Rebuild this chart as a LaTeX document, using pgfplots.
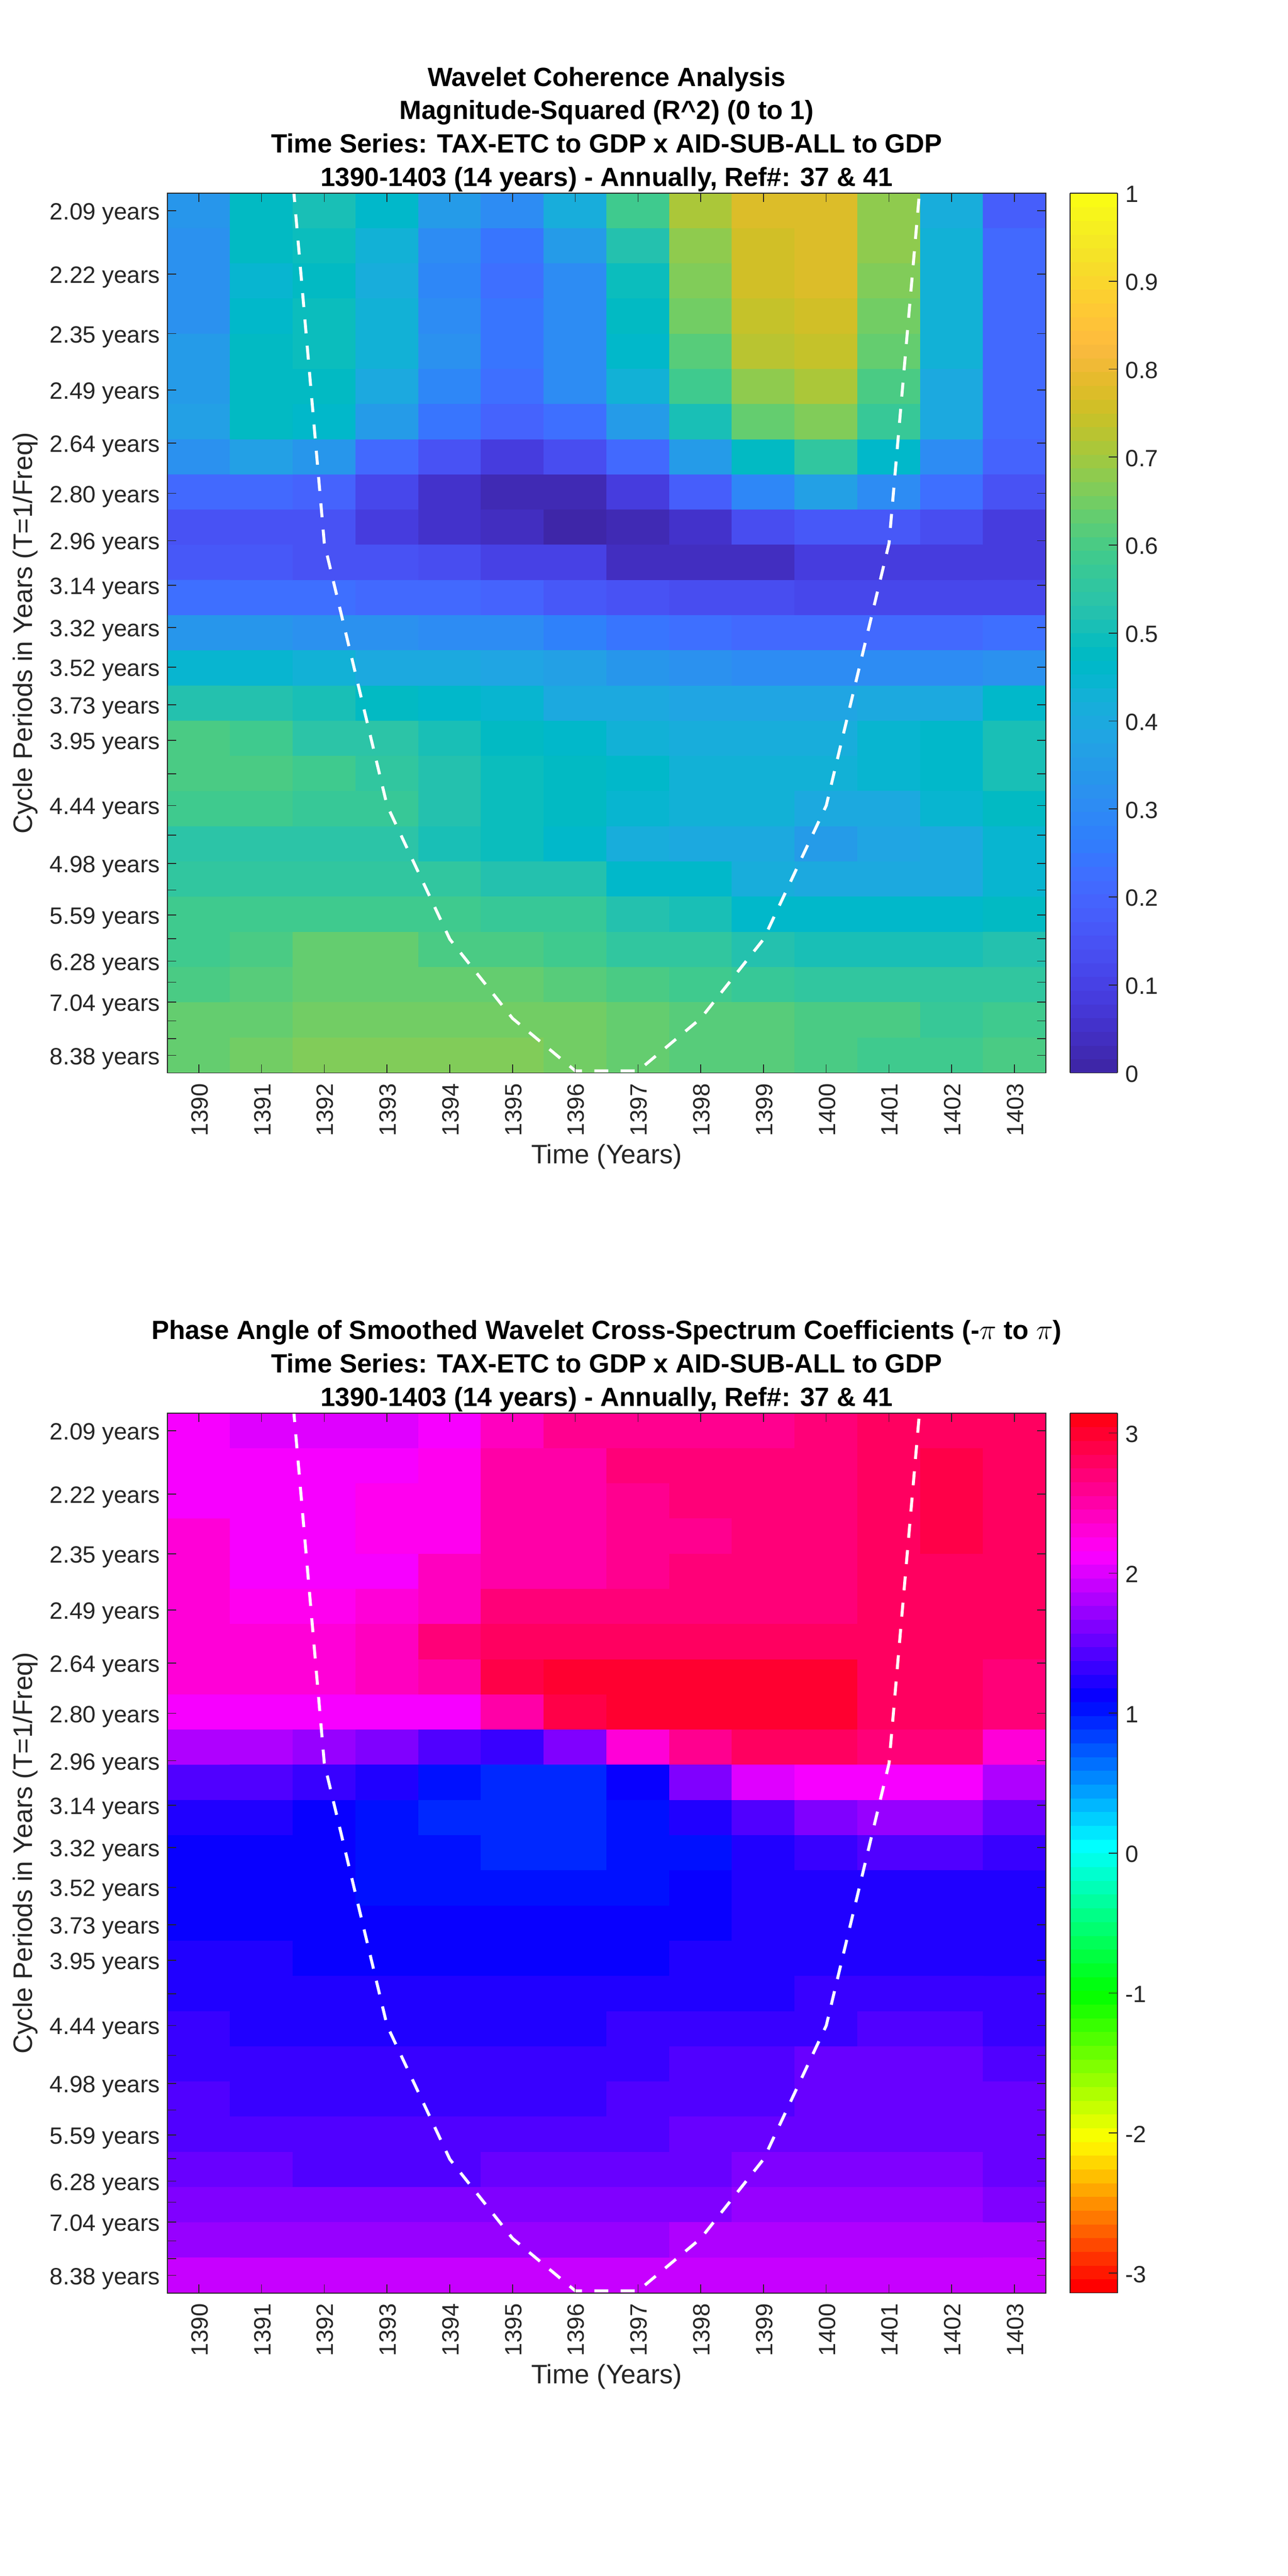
\documentclass[border=0pt]{standalone}
\usepackage{fontspec}
\setmainfont{Liberation Sans}
\usepackage{pgfplots}
\pgfplotsset{compat=1.18}
\definecolor{axgray}{rgb}{0.15,0.15,0.15}
\newcommand{\tickfont}{\fontsize{14.3}{16}\selectfont}
\newcommand{\labfont}{\fontsize{16.2}{19}\selectfont}
\pgfplotsset{
  colormap={parula}{
    rgb=(.2422,.1504,.6603) rgb=(.2504,.1650,.7076) rgb=(.2578,.1818,.7511) rgb=(.2647,.1978,.7952)
    rgb=(.2706,.2147,.8364) rgb=(.2751,.2342,.8710) rgb=(.2783,.2559,.8991) rgb=(.2803,.2782,.9221)
    rgb=(.2813,.3006,.9414) rgb=(.2810,.3228,.9579) rgb=(.2795,.3447,.9717) rgb=(.2760,.3667,.9829)
    rgb=(.2699,.3892,.9906) rgb=(.2602,.4123,.9952) rgb=(.2440,.4358,.9988) rgb=(.2206,.4603,.9973)
    rgb=(.1963,.4847,.9892) rgb=(.1834,.5074,.9798) rgb=(.1786,.5289,.9682) rgb=(.1764,.5499,.9520)
    rgb=(.1687,.5703,.9359) rgb=(.1540,.5902,.9218) rgb=(.1460,.6091,.9079) rgb=(.1380,.6276,.8973)
    rgb=(.1248,.6459,.8883) rgb=(.1113,.6635,.8763) rgb=(.0952,.6798,.8598) rgb=(.0689,.6948,.8394)
    rgb=(.0297,.7082,.8163) rgb=(.0036,.7203,.7917) rgb=(.0067,.7312,.7660) rgb=(.0433,.7411,.7394)
    rgb=(.0964,.7500,.7120) rgb=(.1408,.7584,.6842) rgb=(.1717,.7670,.6554) rgb=(.1938,.7758,.6251)
    rgb=(.2161,.7843,.5923) rgb=(.2470,.7918,.5567) rgb=(.2906,.7973,.5188) rgb=(.3406,.8008,.4789)
    rgb=(.3909,.8029,.4354) rgb=(.4456,.8024,.3909) rgb=(.5044,.7993,.3480) rgb=(.5616,.7942,.3045)
    rgb=(.6174,.7876,.2612) rgb=(.6720,.7793,.2227) rgb=(.7242,.7698,.1910) rgb=(.7738,.7598,.1646)
    rgb=(.8203,.7498,.1535) rgb=(.8634,.7406,.1596) rgb=(.9035,.7330,.1774) rgb=(.9393,.7288,.2100)
    rgb=(.9728,.7298,.2394) rgb=(.9956,.7434,.2371) rgb=(.9970,.7659,.2199) rgb=(.9952,.7893,.2028)
    rgb=(.9892,.8136,.1885) rgb=(.9786,.8386,.1766) rgb=(.9676,.8639,.1643) rgb=(.9610,.8890,.1537)
    rgb=(.9597,.9135,.1423) rgb=(.9628,.9373,.1265) rgb=(.9691,.9606,.1064) rgb=(.9769,.9839,.0805)
  },
  colormap={hsv64}{
    rgb=(1,0,0) rgb=(1,.0938,0) rgb=(1,.1875,0) rgb=(1,.2813,0) rgb=(1,.375,0) rgb=(1,.4688,0)
    rgb=(1,.5625,0) rgb=(1,.6563,0) rgb=(1,.75,0) rgb=(1,.8438,0) rgb=(1,.9375,0)
    rgb=(.9688,1,0) rgb=(.875,1,0) rgb=(.7813,1,0) rgb=(.6875,1,0) rgb=(.5938,1,0) rgb=(.5,1,0)
    rgb=(.4063,1,0) rgb=(.3125,1,0) rgb=(.2188,1,0) rgb=(.125,1,0) rgb=(.0313,1,0)
    rgb=(0,1,.0625) rgb=(0,1,.1563) rgb=(0,1,.25) rgb=(0,1,.3438) rgb=(0,1,.4375) rgb=(0,1,.5313)
    rgb=(0,1,.625) rgb=(0,1,.7188) rgb=(0,1,.8125) rgb=(0,1,.9063) rgb=(0,1,1)
    rgb=(0,.9063,1) rgb=(0,.8125,1) rgb=(0,.7188,1) rgb=(0,.625,1) rgb=(0,.5313,1) rgb=(0,.4375,1)
    rgb=(0,.3438,1) rgb=(0,.25,1) rgb=(0,.1563,1) rgb=(0,.0625,1)
    rgb=(.0313,0,1) rgb=(.125,0,1) rgb=(.2188,0,1) rgb=(.3125,0,1) rgb=(.4063,0,1) rgb=(.5,0,1)
    rgb=(.5938,0,1) rgb=(.6875,0,1) rgb=(.7813,0,1) rgb=(.875,0,1) rgb=(.9688,0,1)
    rgb=(1,0,.9375) rgb=(1,0,.8438) rgb=(1,0,.75) rgb=(1,0,.6563) rgb=(1,0,.5625) rgb=(1,0,.4688)
    rgb=(1,0,.375) rgb=(1,0,.2813) rgb=(1,0,.1875) rgb=(1,0,.0938)
  },
  panel/.style={
    scale only axis, width=533pt, height=533.75pt,
    anchor=south west,
    xmin=1389.5, xmax=1403.5, ymin=-0.5, ymax=24.5,
    y dir=reverse,
    axis on top,
    axis line style={axgray, line width=0.6pt},
    every tick/.style={axgray, line width=0.5pt},
    tick align=inside, major tick length=5.3pt,
    tick label style={font=\tickfont, text=axgray},
    xtick={1390,...,1403},
    xticklabels={1390,1391,1392,1393,1394,1395,1396,1397,1398,1399,1400,1401,1402,1403},
    xticklabel style={rotate=90, anchor=east, yshift=-0.5pt, xshift=-3pt},
    yticklabel style={yshift=-2pt, xshift=-1pt},
    ytick={0,1.796,3.491,5.091,6.602,8.027,9.373,10.643,11.841,12.973,14.041,15.049,16,16.898,17.746,18.546,19.301,20.013,20.686,21.321,21.921,22.486,23.020,23.524,24},
    yticklabels={2.09 years,2.22 years,2.35 years,2.49 years,2.64 years,2.80 years,2.96 years,3.14 years,3.32 years,3.52 years,3.73 years,3.95 years,,4.44 years,,4.98 years,,5.59 years,,6.28 years,,7.04 years,,,8.38 years},
    xlabel={Time (Years)}, ylabel={Cycle Periods in Years (T=1/Freq)},
    every axis x label/.style={at={(axis description cs:0.5,-0.0951)}, anchor=center, font=\labfont, text=axgray},
    every axis y label/.style={at={(axis description cs:-0.162,0.5)}, anchor=center, rotate=90, font=\labfont, text=axgray},
    title style={font=\bfseries\fontsize{16}{20.2}\selectfont, align=center, text=black, at={(0.5,1)}, anchor=south, yshift=-8.5pt},
    colormap access=piecewise constant,
    colorbar sampled,
  },
  cbar/.style={
    at={(parent axis.north east)}, anchor=north west, xshift=6pt,
    width=28.75pt, samples=65,
    axis line style={axgray, line width=0.6pt},
    every tick/.style={axgray, line width=0.5pt},
    tick align=inside, major tick length=5.3pt, ytick pos=right, yticklabel pos=right,
    tick label style={font=\tickfont, text=axgray},
    yticklabel style={yshift=-0.7pt, xshift=1.5pt},
  },
  coi/.style={white, line width=1.8pt, dash pattern=on 8.5pt off 7.5pt},
}
\begin{document}
\begin{tikzpicture}
\path[use as bounding box] (0,0) rectangle (781.25pt,1563pt);

\begin{axis}[panel, at={(101.6pt,912pt)},
  title={Wavelet Coherence Analysis\\Magnitude-Squared (R\textasciicircum 2) (0 to 1)\\Time Series: TAX-ETC to GDP x AID-SUB-ALL to GDP\\1390-1403 (14 years) - Annually, Ref\#: 37 \& 41},
  colormap name=parula, point meta min=0, point meta max=1,
  colorbar style={cbar, ytick={0,0.1,...,1}, yticklabels={0,0.1,0.2,0.3,0.4,0.5,0.6,0.7,0.8,0.9,1}},
]
% coherence, one line per period row
\addplot[matrix plot*, mesh/cols=14, point meta=explicit] coordinates {
(1390,0)[.336] (1391,0)[.477] (1392,0)[.508] (1393,0)[.461] (1394,0)[.352] (1395,0)[.305] (1396,0)[.414] (1397,0)[.586] (1398,0)[.711] (1399,0)[.773] (1400,0)[.773] (1401,0)[.680] (1402,0)[.414] (1403,0)[.180]
(1390,1)[.320] (1391,1)[.477] (1392,1)[.492] (1393,1)[.430] (1394,1)[.305] (1395,1)[.242] (1396,1)[.352] (1397,1)[.523] (1398,1)[.680] (1399,1)[.758] (1400,1)[.773] (1401,1)[.680] (1402,1)[.430] (1403,1)[.211]
(1390,2)[.320] (1391,2)[.445] (1392,2)[.477] (1393,2)[.414] (1394,2)[.289] (1395,2)[.227] (1396,2)[.305] (1397,2)[.492] (1398,2)[.664] (1399,2)[.758] (1400,2)[.773] (1401,2)[.664] (1402,2)[.430] (1403,2)[.211]
(1390,3)[.320] (1391,3)[.461] (1392,3)[.492] (1393,3)[.430] (1394,3)[.305] (1395,3)[.242] (1396,3)[.305] (1397,3)[.477] (1398,3)[.648] (1399,3)[.742] (1400,3)[.758] (1401,3)[.648] (1402,3)[.430] (1403,3)[.211]
(1390,4)[.352] (1391,4)[.477] (1392,4)[.492] (1393,4)[.430] (1394,4)[.320] (1395,4)[.242] (1396,4)[.305] (1397,4)[.461] (1398,4)[.617] (1399,4)[.727] (1400,4)[.742] (1401,4)[.633] (1402,4)[.430] (1403,4)[.211]
(1390,5)[.352] (1391,5)[.477] (1392,5)[.477] (1393,5)[.398] (1394,5)[.289] (1395,5)[.227] (1396,5)[.305] (1397,5)[.430] (1398,5)[.586] (1399,5)[.680] (1400,5)[.711] (1401,5)[.602] (1402,5)[.398] (1403,5)[.211]
(1390,6)[.367] (1391,6)[.477] (1392,6)[.461] (1393,6)[.352] (1394,6)[.242] (1395,6)[.195] (1396,6)[.227] (1397,6)[.352] (1398,6)[.508] (1399,6)[.633] (1400,6)[.664] (1401,6)[.570] (1402,6)[.398] (1403,6)[.211]
(1390,7)[.320] (1391,7)[.367] (1392,7)[.336] (1393,7)[.211] (1394,7)[.148] (1395,7)[.086] (1396,7)[.133] (1397,7)[.211] (1398,7)[.352] (1399,7)[.477] (1400,7)[.555] (1401,7)[.461] (1402,7)[.305] (1403,7)[.195]
(1390,8)[.211] (1391,8)[.211] (1392,8)[.195] (1393,8)[.117] (1394,8)[.055] (1395,8)[.023] (1396,8)[.023] (1397,8)[.086] (1398,8)[.180] (1399,8)[.289] (1400,8)[.367] (1401,8)[.305] (1402,8)[.227] (1403,8)[.148]
(1390,9)[.148] (1391,9)[.148] (1392,9)[.148] (1393,9)[.086] (1394,9)[.055] (1395,9)[.039] (1396,9)[.008] (1397,9)[.023] (1398,9)[.055] (1399,9)[.133] (1400,9)[.164] (1401,9)[.164] (1402,9)[.133] (1403,9)[.086]
(1390,10)[.164] (1391,10)[.164] (1392,10)[.148] (1393,10)[.148] (1394,10)[.133] (1395,10)[.102] (1396,10)[.102] (1397,10)[.039] (1398,10)[.039] (1399,10)[.039] (1400,10)[.086] (1401,10)[.086] (1402,10)[.086] (1403,10)[.086]
(1390,11)[.227] (1391,11)[.227] (1392,11)[.227] (1393,11)[.211] (1394,11)[.211] (1395,11)[.195] (1396,11)[.164] (1397,11)[.148] (1398,11)[.133] (1399,11)[.133] (1400,11)[.117] (1401,11)[.117] (1402,11)[.117] (1403,11)[.117]
(1390,12)[.336] (1391,12)[.336] (1392,12)[.320] (1393,12)[.320] (1394,12)[.305] (1395,12)[.305] (1396,12)[.273] (1397,12)[.242] (1398,12)[.227] (1399,12)[.211] (1400,12)[.211] (1401,12)[.211] (1402,12)[.211] (1403,12)[.227]
(1390,13)[.445] (1391,13)[.445] (1392,13)[.430] (1393,13)[.398] (1394,13)[.398] (1395,13)[.383] (1396,13)[.367] (1397,13)[.336] (1398,13)[.320] (1399,13)[.305] (1400,13)[.305] (1401,13)[.305] (1402,13)[.305] (1403,13)[.320]
(1390,14)[.523] (1391,14)[.523] (1392,14)[.508] (1393,14)[.477] (1394,14)[.461] (1395,14)[.445] (1396,14)[.398] (1397,14)[.398] (1398,14)[.383] (1399,14)[.383] (1400,14)[.383] (1401,14)[.398] (1402,14)[.398] (1403,14)[.461]
(1390,15)[.602] (1391,15)[.586] (1392,15)[.539] (1393,15)[.539] (1394,15)[.508] (1395,15)[.477] (1396,15)[.461] (1397,15)[.430] (1398,15)[.414] (1399,15)[.414] (1400,15)[.414] (1401,15)[.445] (1402,15)[.461] (1403,15)[.508]
(1390,16)[.602] (1391,16)[.602] (1392,16)[.586] (1393,16)[.555] (1394,16)[.523] (1395,16)[.492] (1396,16)[.477] (1397,16)[.461] (1398,16)[.430] (1399,16)[.430] (1400,16)[.430] (1401,16)[.445] (1402,16)[.461] (1403,16)[.508]
(1390,17)[.586] (1391,17)[.586] (1392,17)[.570] (1393,17)[.570] (1394,17)[.523] (1395,17)[.492] (1396,17)[.477] (1397,17)[.445] (1398,17)[.430] (1399,17)[.430] (1400,17)[.398] (1401,17)[.398] (1402,17)[.445] (1403,17)[.477]
(1390,18)[.539] (1391,18)[.539] (1392,18)[.539] (1393,18)[.539] (1394,18)[.508] (1395,18)[.492] (1396,18)[.461] (1397,18)[.414] (1398,18)[.398] (1399,18)[.398] (1400,18)[.352] (1401,18)[.383] (1402,18)[.398] (1403,18)[.445]
(1390,19)[.555] (1391,19)[.555] (1392,19)[.555] (1393,19)[.555] (1394,19)[.555] (1395,19)[.523] (1396,19)[.523] (1397,19)[.461] (1398,19)[.461] (1399,19)[.414] (1400,19)[.398] (1401,19)[.398] (1402,19)[.398] (1403,19)[.445]
(1390,20)[.586] (1391,20)[.586] (1392,20)[.586] (1393,20)[.586] (1394,20)[.586] (1395,20)[.570] (1396,20)[.570] (1397,20)[.523] (1398,20)[.508] (1399,20)[.461] (1400,20)[.461] (1401,20)[.461] (1402,20)[.461] (1403,20)[.477]
(1390,21)[.586] (1391,21)[.602] (1392,21)[.633] (1393,21)[.633] (1394,21)[.602] (1395,21)[.602] (1396,21)[.586] (1397,21)[.555] (1398,21)[.555] (1399,21)[.523] (1400,21)[.508] (1401,21)[.508] (1402,21)[.508] (1403,21)[.523]
(1390,22)[.602] (1391,22)[.617] (1392,22)[.633] (1393,22)[.633] (1394,22)[.633] (1395,22)[.633] (1396,22)[.617] (1397,22)[.602] (1398,22)[.586] (1399,22)[.570] (1400,22)[.555] (1401,22)[.555] (1402,22)[.555] (1403,22)[.555]
(1390,23)[.633] (1391,23)[.633] (1392,23)[.648] (1393,23)[.648] (1394,23)[.648] (1395,23)[.648] (1396,23)[.648] (1397,23)[.633] (1398,23)[.617] (1399,23)[.617] (1400,23)[.602] (1401,23)[.602] (1402,23)[.570] (1403,23)[.586]
(1390,24)[.633] (1391,24)[.648] (1392,24)[.664] (1393,24)[.664] (1394,24)[.664] (1395,24)[.664] (1396,24)[.648] (1397,24)[.633] (1398,24)[.617] (1399,24)[.617] (1400,24)[.602] (1401,24)[.586] (1402,24)[.586] (1403,24)[.602]
};
\addplot[coi] coordinates {(1391,-11.1) (1392,9.45) (1393,16.9) (1394,20.7) (1395,22.95) (1396,24.44) (1397,24.44) (1398,22.95) (1399,20.7) (1400,16.9) (1401,9.45) (1402,-11.1)};
\end{axis}

\begin{axis}[panel, at={(101.6pt,171.75pt)},
  title={Phase Angle of Smoothed Wavelet Cross-Spectrum Coefficients (-$\pi$ to $\pi$)\\Time Series: TAX-ETC to GDP x AID-SUB-ALL to GDP\\1390-1403 (14 years) - Annually, Ref\#: 37 \& 41},
  colormap name=hsv64, point meta min=-3.14159, point meta max=3.14159,
  colorbar style={cbar, ytick={-3,-2,-1,0,1,2,3}, yticklabels={-3,-2,-1,0,1,2,3}},
]
% phase angle in radians
\addplot[matrix plot*, mesh/cols=14, point meta=explicit] coordinates {
(1390,0)[2.111] (1391,0)[2.013] (1392,0)[2.013] (1393,0)[2.013] (1394,0)[2.111] (1395,0)[2.405] (1396,0)[2.601] (1397,0)[2.601] (1398,0)[2.601] (1399,0)[2.601] (1400,0)[2.699] (1401,0)[2.798] (1402,0)[2.798] (1403,0)[2.798]
(1390,1)[2.111] (1391,1)[2.111] (1392,1)[2.111] (1393,1)[2.111] (1394,1)[2.209] (1395,1)[2.503] (1396,1)[2.503] (1397,1)[2.699] (1398,1)[2.699] (1399,1)[2.699] (1400,1)[2.699] (1401,1)[2.798] (1402,1)[2.896] (1403,1)[2.798]
(1390,2)[2.111] (1391,2)[2.111] (1392,2)[2.111] (1393,2)[2.209] (1394,2)[2.209] (1395,2)[2.503] (1396,2)[2.503] (1397,2)[2.601] (1398,2)[2.699] (1399,2)[2.699] (1400,2)[2.699] (1401,2)[2.798] (1402,2)[2.896] (1403,2)[2.798]
(1390,3)[2.307] (1391,3)[2.111] (1392,3)[2.111] (1393,3)[2.209] (1394,3)[2.209] (1395,3)[2.503] (1396,3)[2.503] (1397,3)[2.601] (1398,3)[2.601] (1399,3)[2.699] (1400,3)[2.699] (1401,3)[2.798] (1402,3)[2.896] (1403,3)[2.798]
(1390,4)[2.307] (1391,4)[2.111] (1392,4)[2.111] (1393,4)[2.111] (1394,4)[2.405] (1395,4)[2.503] (1396,4)[2.503] (1397,4)[2.601] (1398,4)[2.699] (1399,4)[2.699] (1400,4)[2.699] (1401,4)[2.798] (1402,4)[2.798] (1403,4)[2.798]
(1390,5)[2.307] (1391,5)[2.209] (1392,5)[2.209] (1393,5)[2.307] (1394,5)[2.405] (1395,5)[2.699] (1396,5)[2.699] (1397,5)[2.699] (1398,5)[2.699] (1399,5)[2.699] (1400,5)[2.699] (1401,5)[2.798] (1402,5)[2.798] (1403,5)[2.798]
(1390,6)[2.307] (1391,6)[2.307] (1392,6)[2.307] (1393,6)[2.405] (1394,6)[2.699] (1395,6)[2.798] (1396,6)[2.798] (1397,6)[2.798] (1398,6)[2.798] (1399,6)[2.798] (1400,6)[2.798] (1401,6)[2.798] (1402,6)[2.798] (1403,6)[2.798]
(1390,7)[2.307] (1391,7)[2.307] (1392,7)[2.307] (1393,7)[2.405] (1394,7)[2.503] (1395,7)[2.896] (1396,7)[2.994] (1397,7)[2.994] (1398,7)[2.994] (1399,7)[2.994] (1400,7)[2.994] (1401,7)[2.798] (1402,7)[2.798] (1403,7)[2.699]
(1390,8)[2.111] (1391,8)[2.111] (1392,8)[2.111] (1393,8)[2.111] (1394,8)[2.111] (1395,8)[2.503] (1396,8)[2.896] (1397,8)[2.994] (1398,8)[2.994] (1399,8)[2.994] (1400,8)[2.994] (1401,8)[2.798] (1402,8)[2.798] (1403,8)[2.699]
(1390,9)[1.816] (1391,9)[1.816] (1392,9)[1.718] (1393,9)[1.620] (1394,9)[1.424] (1395,9)[1.325] (1396,9)[1.620] (1397,9)[2.307] (1398,9)[2.601] (1399,9)[2.798] (1400,9)[2.798] (1401,9)[2.699] (1402,9)[2.699] (1403,9)[2.307]
(1390,10)[1.424] (1391,10)[1.424] (1392,10)[1.325] (1393,10)[1.227] (1394,10)[1.031] (1395,10)[.933] (1396,10)[.933] (1397,10)[1.129] (1398,10)[1.620] (1399,10)[2.013] (1400,10)[2.111] (1401,10)[2.111] (1402,10)[2.111] (1403,10)[1.816]
(1390,11)[1.227] (1391,11)[1.227] (1392,11)[1.129] (1393,11)[1.031] (1394,11)[.933] (1395,11)[.933] (1396,11)[.933] (1397,11)[1.031] (1398,11)[1.227] (1399,11)[1.424] (1400,11)[1.620] (1401,11)[1.718] (1402,11)[1.718] (1403,11)[1.522]
(1390,12)[1.129] (1391,12)[1.129] (1392,12)[1.129] (1393,12)[1.031] (1394,12)[1.031] (1395,12)[.933] (1396,12)[.933] (1397,12)[1.031] (1398,12)[1.031] (1399,12)[1.227] (1400,12)[1.325] (1401,12)[1.424] (1402,12)[1.424] (1403,12)[1.325]
(1390,13)[1.129] (1391,13)[1.129] (1392,13)[1.129] (1393,13)[1.031] (1394,13)[1.031] (1395,13)[1.031] (1396,13)[1.031] (1397,13)[1.031] (1398,13)[1.129] (1399,13)[1.227] (1400,13)[1.227] (1401,13)[1.227] (1402,13)[1.227] (1403,13)[1.227]
(1390,14)[1.129] (1391,14)[1.129] (1392,14)[1.129] (1393,14)[1.129] (1394,14)[1.129] (1395,14)[1.129] (1396,14)[1.129] (1397,14)[1.129] (1398,14)[1.129] (1399,14)[1.227] (1400,14)[1.227] (1401,14)[1.227] (1402,14)[1.227] (1403,14)[1.227]
(1390,15)[1.227] (1391,15)[1.227] (1392,15)[1.129] (1393,15)[1.129] (1394,15)[1.129] (1395,15)[1.129] (1396,15)[1.129] (1397,15)[1.129] (1398,15)[1.227] (1399,15)[1.227] (1400,15)[1.227] (1401,15)[1.227] (1402,15)[1.227] (1403,15)[1.227]
(1390,16)[1.227] (1391,16)[1.227] (1392,16)[1.227] (1393,16)[1.227] (1394,16)[1.227] (1395,16)[1.227] (1396,16)[1.227] (1397,16)[1.227] (1398,16)[1.227] (1399,16)[1.227] (1400,16)[1.325] (1401,16)[1.325] (1402,16)[1.325] (1403,16)[1.325]
(1390,17)[1.325] (1391,17)[1.227] (1392,17)[1.227] (1393,17)[1.227] (1394,17)[1.227] (1395,17)[1.227] (1396,17)[1.227] (1397,17)[1.325] (1398,17)[1.325] (1399,17)[1.325] (1400,17)[1.325] (1401,17)[1.424] (1402,17)[1.424] (1403,17)[1.325]
(1390,18)[1.325] (1391,18)[1.325] (1392,18)[1.325] (1393,18)[1.325] (1394,18)[1.325] (1395,18)[1.325] (1396,18)[1.325] (1397,18)[1.325] (1398,18)[1.424] (1399,18)[1.424] (1400,18)[1.522] (1401,18)[1.522] (1402,18)[1.522] (1403,18)[1.424]
(1390,19)[1.424] (1391,19)[1.325] (1392,19)[1.325] (1393,19)[1.325] (1394,19)[1.325] (1395,19)[1.325] (1396,19)[1.325] (1397,19)[1.424] (1398,19)[1.424] (1399,19)[1.424] (1400,19)[1.522] (1401,19)[1.522] (1402,19)[1.522] (1403,19)[1.522]
(1390,20)[1.424] (1391,20)[1.424] (1392,20)[1.424] (1393,20)[1.424] (1394,20)[1.424] (1395,20)[1.424] (1396,20)[1.424] (1397,20)[1.424] (1398,20)[1.522] (1399,20)[1.522] (1400,20)[1.522] (1401,20)[1.522] (1402,20)[1.522] (1403,20)[1.522]
(1390,21)[1.522] (1391,21)[1.522] (1392,21)[1.424] (1393,21)[1.424] (1394,21)[1.424] (1395,21)[1.522] (1396,21)[1.522] (1397,21)[1.522] (1398,21)[1.522] (1399,21)[1.620] (1400,21)[1.620] (1401,21)[1.620] (1402,21)[1.620] (1403,21)[1.522]
(1390,22)[1.620] (1391,22)[1.620] (1392,22)[1.620] (1393,22)[1.620] (1394,22)[1.620] (1395,22)[1.620] (1396,22)[1.620] (1397,22)[1.620] (1398,22)[1.620] (1399,22)[1.718] (1400,22)[1.718] (1401,22)[1.718] (1402,22)[1.718] (1403,22)[1.620]
(1390,23)[1.718] (1391,23)[1.718] (1392,23)[1.718] (1393,23)[1.718] (1394,23)[1.718] (1395,23)[1.718] (1396,23)[1.718] (1397,23)[1.718] (1398,23)[1.816] (1399,23)[1.816] (1400,23)[1.816] (1401,23)[1.816] (1402,23)[1.816] (1403,23)[1.816]
(1390,24)[1.915] (1391,24)[1.915] (1392,24)[1.915] (1393,24)[1.915] (1394,24)[1.915] (1395,24)[1.915] (1396,24)[1.915] (1397,24)[1.915] (1398,24)[1.915] (1399,24)[1.915] (1400,24)[1.915] (1401,24)[1.915] (1402,24)[1.915] (1403,24)[1.915]
};
\addplot[coi] coordinates {(1391,-11.1) (1392,9.45) (1393,16.9) (1394,20.7) (1395,22.95) (1396,24.44) (1397,24.44) (1398,22.95) (1399,20.7) (1400,16.9) (1401,9.45) (1402,-11.1)};
\end{axis}
\end{tikzpicture}
\end{document}
